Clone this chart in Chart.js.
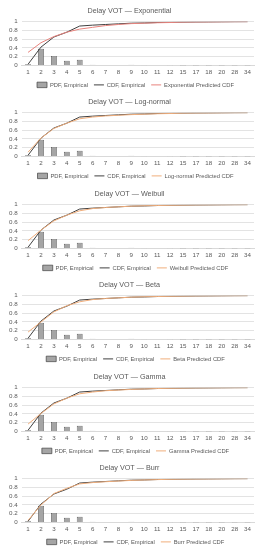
<!DOCTYPE html>
<html>
<head>
<meta charset="utf-8">
<script src="https://cdn.jsdelivr.net/npm/chart.js@4.4.1/dist/chart.umd.min.js"></script>
<style>
    html, body { margin: 0; padding: 0; background: #fff; }
    body { width: 260px; height: 550px; position: relative; overflow: hidden; }
    .panel { position: absolute; left: 0; width: 260px; height: 92px; }
</style>
</head>
<body>
<div id="charts"></div>
<script>
// x categories (delay VOT bins)
const categories = ['1', '2', '3', '4', '5', '6', '7', '8', '9', '10', '11', '12', '15', '17', '18', '20', '28', '34'];

// empirical distribution, same in every panel
const pdfEmpirical = [0.03, 0.38, 0.22, 0.11, 0.13, 0.02, 0.01, 0.015, 0.02, 0.005, 0.01, 0.008, 0.003, 0.003, 0.003, 0.003, 0.003, 0.003];
const cdfEmpirical = [0.03, 0.42, 0.65, 0.76, 0.90, 0.92, 0.935, 0.95, 0.965, 0.97, 0.98, 0.985, 0.99, 0.993, 0.995, 0.997, 0.999, 1];

// fitted CDFs
const expCdf     = [0.30, 0.52, 0.66, 0.76, 0.83, 0.87, 0.91, 0.935, 0.955, 0.965, 0.975, 0.98, 0.99, 0.993, 0.995, 0.997, 0.999, 1];
const lognormCdf = [0.10, 0.42, 0.64, 0.76, 0.86, 0.90, 0.925, 0.94, 0.955, 0.965, 0.975, 0.98, 0.99, 0.993, 0.995, 0.997, 0.999, 1];
const weibullCdf = [0.18, 0.42, 0.63, 0.76, 0.86, 0.91, 0.935, 0.95, 0.965, 0.975, 0.98, 0.985, 0.99, 0.995, 0.997, 0.998, 0.999, 1];
const betaCdf    = [0.17, 0.40, 0.63, 0.77, 0.86, 0.91, 0.935, 0.95, 0.965, 0.975, 0.98, 0.985, 0.99, 0.995, 0.997, 0.998, 0.999, 1];
const gammaCdf   = [0.17, 0.41, 0.63, 0.76, 0.86, 0.90, 0.93, 0.945, 0.96, 0.97, 0.98, 0.985, 0.99, 0.995, 0.997, 0.998, 0.999, 1];
const burrCdf    = [0.05, 0.40, 0.66, 0.78, 0.88, 0.91, 0.93, 0.945, 0.96, 0.97, 0.978, 0.985, 0.99, 0.993, 0.995, 0.997, 0.999, 1];

const distNames = ['Exponential', 'Log-normal', 'Weibull', 'Beta', 'Gamma', 'Burr'];
const fittedCdfs = [expCdf, lognormCdf, weibullCdf, betaCdf, gammaCdf, burrCdf];

const yTicks = [0, 0.2, 0.4, 0.6, 0.8, 1];

const panelTops = [0, 91, 183, 274, 366, 457];
const fittedColors = ['#e8837d', '#f0ae7c', '#f0ae7c', '#f0ae7c', '#f0ae7c', '#f0ae7c'];
const textColor = '#595959';
const fontFamily = "'Liberation Sans', Arial, sans-serif";

// fixed legend height so the plot area lines up, then nudge the legend into place
const legendPlace = {
    id: 'legendPlace',
    beforeInit(chart) {
        const fit = chart.legend.fit;
        chart.legend.fit = function() {
            fit.call(this);
            this.height = 13;
        };
    },
    afterLayout(chart) {
        const lg = chart.legend;
        lg.top -= 3; lg.bottom -= 3;
        lg.left += 6; lg.right += 6;
    }
};

function makePanel(i) {
    const div = document.createElement('div');
    div.className = 'panel';
    div.style.top = panelTops[i] + 'px';
    const canvas = document.createElement('canvas');
    div.appendChild(canvas);
    document.getElementById('charts').appendChild(div);

    new Chart(canvas.getContext('2d'), {
        data: {
            labels: categories,
            datasets: [{
                type: 'bar',
                label: 'PDF, Empirical',
                data: pdfEmpirical,
                backgroundColor: '#a5a5a5',
                borderColor: '#404040',
                borderWidth: 0.7,
                barPercentage: 0.45,
                categoryPercentage: 1,
                pointStyle: 'rect',
                order: 3
            }, {
                type: 'line',
                label: 'CDF, Empirical',
                data: cdfEmpirical,
                borderColor: '#404040',
                backgroundColor: '#404040',
                borderWidth: 1,
                pointRadius: 0,
                tension: 0,
                pointStyle: 'line',
                order: 2
            }, {
                type: 'line',
                label: distNames[i] + ' Predicted CDF',
                data: fittedCdfs[i],
                borderColor: fittedColors[i],
                backgroundColor: fittedColors[i],
                borderWidth: 1,
                pointRadius: 0,
                tension: 0,
                pointStyle: 'line',
                order: 1
            }]
        },
        plugins: [legendPlace],
        options: {
            responsive: true,
            maintainAspectRatio: false,
            animation: false,
            layout: { padding: { left: 5, right: 6, top: 0, bottom: 0 } },
            plugins: {
                title: {
                    display: true,
                    text: 'Delay VOT \u2014 ' + distNames[i],
                    color: textColor,
                    font: { family: fontFamily, size: 7.2, weight: 'normal' },
                    padding: { top: 7, bottom: 6 }
                },
                legend: {
                    position: 'bottom',
                    labels: {
                        color: textColor,
                        font: { family: fontFamily, size: 5.8 },
                        usePointStyle: true,
                        pointStyleWidth: 10,
                        boxHeight: 5.5,
                        padding: 6,
                        sort: (a, b) => a.datasetIndex - b.datasetIndex
                    }
                },
                tooltip: { enabled: false }
            },
            scales: {
                x: {
                    grid: { display: false, drawTicks: false },
                    border: { color: '#d9d9d9' },
                    ticks: { color: textColor, font: { family: fontFamily, size: 6.2 }, padding: 3, maxRotation: 0, autoSkip: false }
                },
                y: {
                    min: 0,
                    max: 1,
                    afterBuildTicks: axis => { axis.ticks = yTicks.map(v => ({ value: v })); },
                    grid: { color: '#e3e3e3', drawTicks: false },
                    border: { display: false },
                    ticks: { color: textColor, font: { family: fontFamily, size: 6.2 }, padding: 4, autoSkip: false, callback: v => String(v) }
                }
            }
        }
    });
}

distNames.forEach((name, i) => makePanel(i));
</script>
</body>
</html>
